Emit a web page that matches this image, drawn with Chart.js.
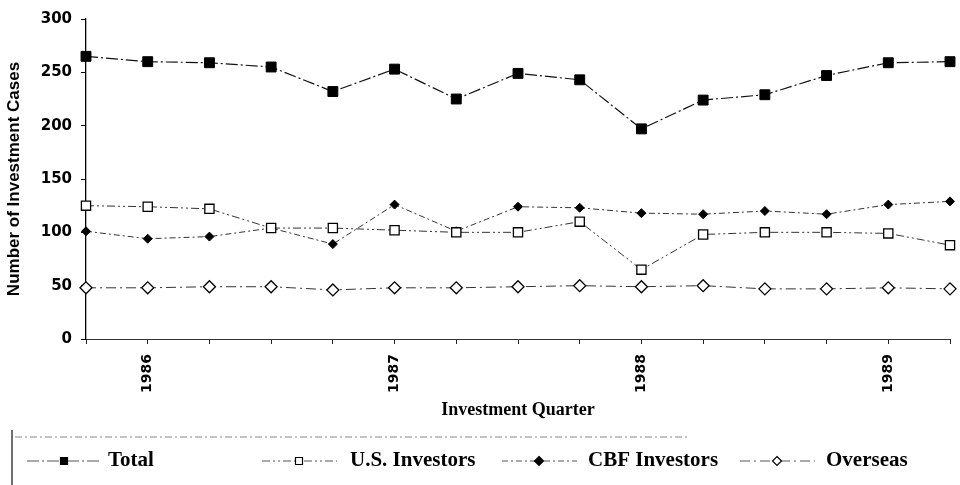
<!DOCTYPE html>
<html lang="en">
<head>
    <meta charset="UTF-8">
    <title>Investment Cases by Quarter</title>
    <style>
        html, body { margin: 0; padding: 0; background: #fff; }
        #chart-container { width: 960px; height: 485px; }
    </style>
</head>
<body>
    <div id="chart-container">
        <canvas id="myChart" width="960" height="485"></canvas>
    </div>
<script src="https://cdn.jsdelivr.net/npm/chart.js"></script>
<script>
// Quarters from 1985 Q4 to 1989 Q2
const quarters = [
    "1985 Q4",
    "1986 Q1", "1986 Q2", "1986 Q3", "1986 Q4",
    "1987 Q1", "1987 Q2", "1987 Q3", "1987 Q4",
    "1988 Q1", "1988 Q2", "1988 Q3", "1988 Q4",
    "1989 Q1", "1989 Q2"
]
// Only the first quarter of each year gets a label
const yearTicks = quarters.map(q => q.endsWith("Q1") ? q.slice(0, 4) : "")

const seriesNames = ["Total", "U.S. Investors", "CBF Investors", "Overseas"]
const total        = [265, 260, 259, 255, 232, 253, 225, 249, 243, 197, 224, 229, 247, 259, 260]
const usInvestors  = [125, 124, 122, 104, 104, 102, 100, 100, 110, 65, 98, 100, 100, 99, 88]
const cbfInvestors = [101, 94, 96, 104, 89, 126, 101, 124, 123, 118, 117, 120, 117, 126, 129]
const overseas     = [48, 48, 49, 49, 46, 48, 48, 49, 50, 49, 50, 47, 47, 48, 47]
const yTicks = [0, 50, 100, 150, 200, 250, 300]

// Legend drawn under the x title, framed by a left rule and a dotted top rule
const legendBox = {
    id: "legendBox",
    afterDraw(chart) {
        const ctx = chart.ctx
        const slots = [
            { line: 27, text: 108 },
            { line: 262, text: 350 },
            { line: 502, text: 588 },
            { line: 740, text: 826 }
        ]
        const y = 461
        ctx.save()
        ctx.strokeStyle = "#222"
        ctx.lineWidth = 1.3
        ctx.beginPath(); ctx.moveTo(12, 430); ctx.lineTo(12, 485); ctx.stroke()
        ctx.strokeStyle = "#888"
        ctx.lineWidth = 1
        ctx.setLineDash([7, 3, 2, 3])
        ctx.beginPath(); ctx.moveTo(15, 437); ctx.lineTo(690, 437); ctx.stroke()

        chart.data.datasets.forEach((ds, i) => {
            const s = slots[i]
            ctx.setLineDash(ds.borderDash)
            ctx.strokeStyle = "#555"
            ctx.lineWidth = 1
            ctx.beginPath(); ctx.moveTo(s.line, y); ctx.lineTo(s.line + 75, y); ctx.stroke()
            ctx.setLineDash([])

            // marker
            const cx = s.line + 37
            const r = 3.5
            ctx.fillStyle = ds.pointBackgroundColor
            ctx.strokeStyle = "#000"
            ctx.lineWidth = 1.2
            ctx.beginPath()
            if (ds.pointStyle === "rect") {
                ctx.rect(cx - r, y - r, 2 * r, 2 * r)
            } else {
                ctx.moveTo(cx, y - r - 1); ctx.lineTo(cx + r + 1, y)
                ctx.lineTo(cx, y + r + 1); ctx.lineTo(cx - r - 1, y); ctx.closePath()
            }
            ctx.fill(); ctx.stroke()

            ctx.fillStyle = "#000"
            ctx.font = "bold 21px 'Liberation Serif'"
            ctx.textBaseline = "middle"
            ctx.textAlign = "left"
            ctx.fillText(ds.label, s.text, y)
        })
        ctx.restore()
    }
}

const ctx = document.getElementById("myChart")

new Chart(ctx, {
    type: "line",
    data: {
        labels: quarters,
        datasets: [
            {
                label: seriesNames[0],
                data: total,
                borderColor: "#111",
                borderWidth: 1.2,
                borderDash: [12, 3, 2, 3],
                pointStyle: "rect",
                pointRadius: 7,
                pointBackgroundColor: "#000",
                pointBorderColor: "#000",
                pointBorderWidth: 1
            },
            {
                label: seriesNames[1],
                data: usInvestors,
                borderColor: "#333",
                borderWidth: 1,
                borderDash: [8, 3, 2, 3, 2, 3],
                pointStyle: "rect",
                pointRadius: 6.5,
                pointBackgroundColor: "#fff",
                pointBorderColor: "#000",
                pointBorderWidth: 1.3
            },
            {
                label: seriesNames[2],
                data: cbfInvestors,
                borderColor: "#333",
                borderWidth: 1,
                borderDash: [6, 3, 2, 3],
                pointStyle: "rectRot",
                pointRadius: 4.5,
                pointBackgroundColor: "#000",
                pointBorderColor: "#000",
                pointBorderWidth: 1
            },
            {
                label: seriesNames[3],
                data: overseas,
                borderColor: "#333",
                borderWidth: 1,
                borderDash: [10, 4, 2, 4],
                pointStyle: "rectRot",
                pointRadius: 6,
                pointBackgroundColor: "#fff",
                pointBorderColor: "#000",
                pointBorderWidth: 1.3
            }
        ]
    },
    options: {
        responsive: false,
        animation: false,
        layout: { padding: { left: 4, right: 10, top: 19, bottom: 58 } },
        plugins: {
            legend: { display: false },
            tooltip: { enabled: false }
        },
        scales: {
            x: {
                offset: false,
                afterFit: s => {
                    s.height = 88
                    s.paddingLeft = 0
                    s.paddingRight = 0
                },
                border: { display: true, color: "#333", width: 1, dash: [10, 3, 2, 3] },
                grid: { drawOnChartArea: false, drawTicks: true, tickLength: 5, color: "#222" },
                ticks: {
                    autoSkip: false,
                    minRotation: 90,
                    maxRotation: 90,
                    padding: 10,
                    color: "#000",
                    font: { family: "'DejaVu Sans'", size: 14, weight: "bold" },
                    callback: (v, i) => yearTicks[i]
                },
                title: {
                    display: true,
                    text: "Investment Quarter",
                    color: "#000",
                    padding: { top: 0, bottom: 6 },
                    font: { family: "'Liberation Serif'", size: 18, weight: "bold" }
                }
            },
            y: {
                min: yTicks[0],
                max: yTicks[yTicks.length - 1],
                afterFit: s => { s.width = 82 },
                border: { display: true, color: "#000", width: 1.3 },
                grid: { drawOnChartArea: false, drawTicks: true, tickLength: 5, color: "#000" },
                ticks: {
                    stepSize: 50,
                    padding: 9,
                    color: "#000",
                    font: { family: "'DejaVu Sans'", size: 15, weight: "bold" }
                },
                title: {
                    display: true,
                    text: "Number of Investment Cases",
                    color: "#000",
                    padding: 0,
                    font: { family: "'Liberation Sans'", size: 17, weight: "bold" }
                }
            }
        }
    },
    plugins: [legendBox]
})
</script>
</body>
</html>
